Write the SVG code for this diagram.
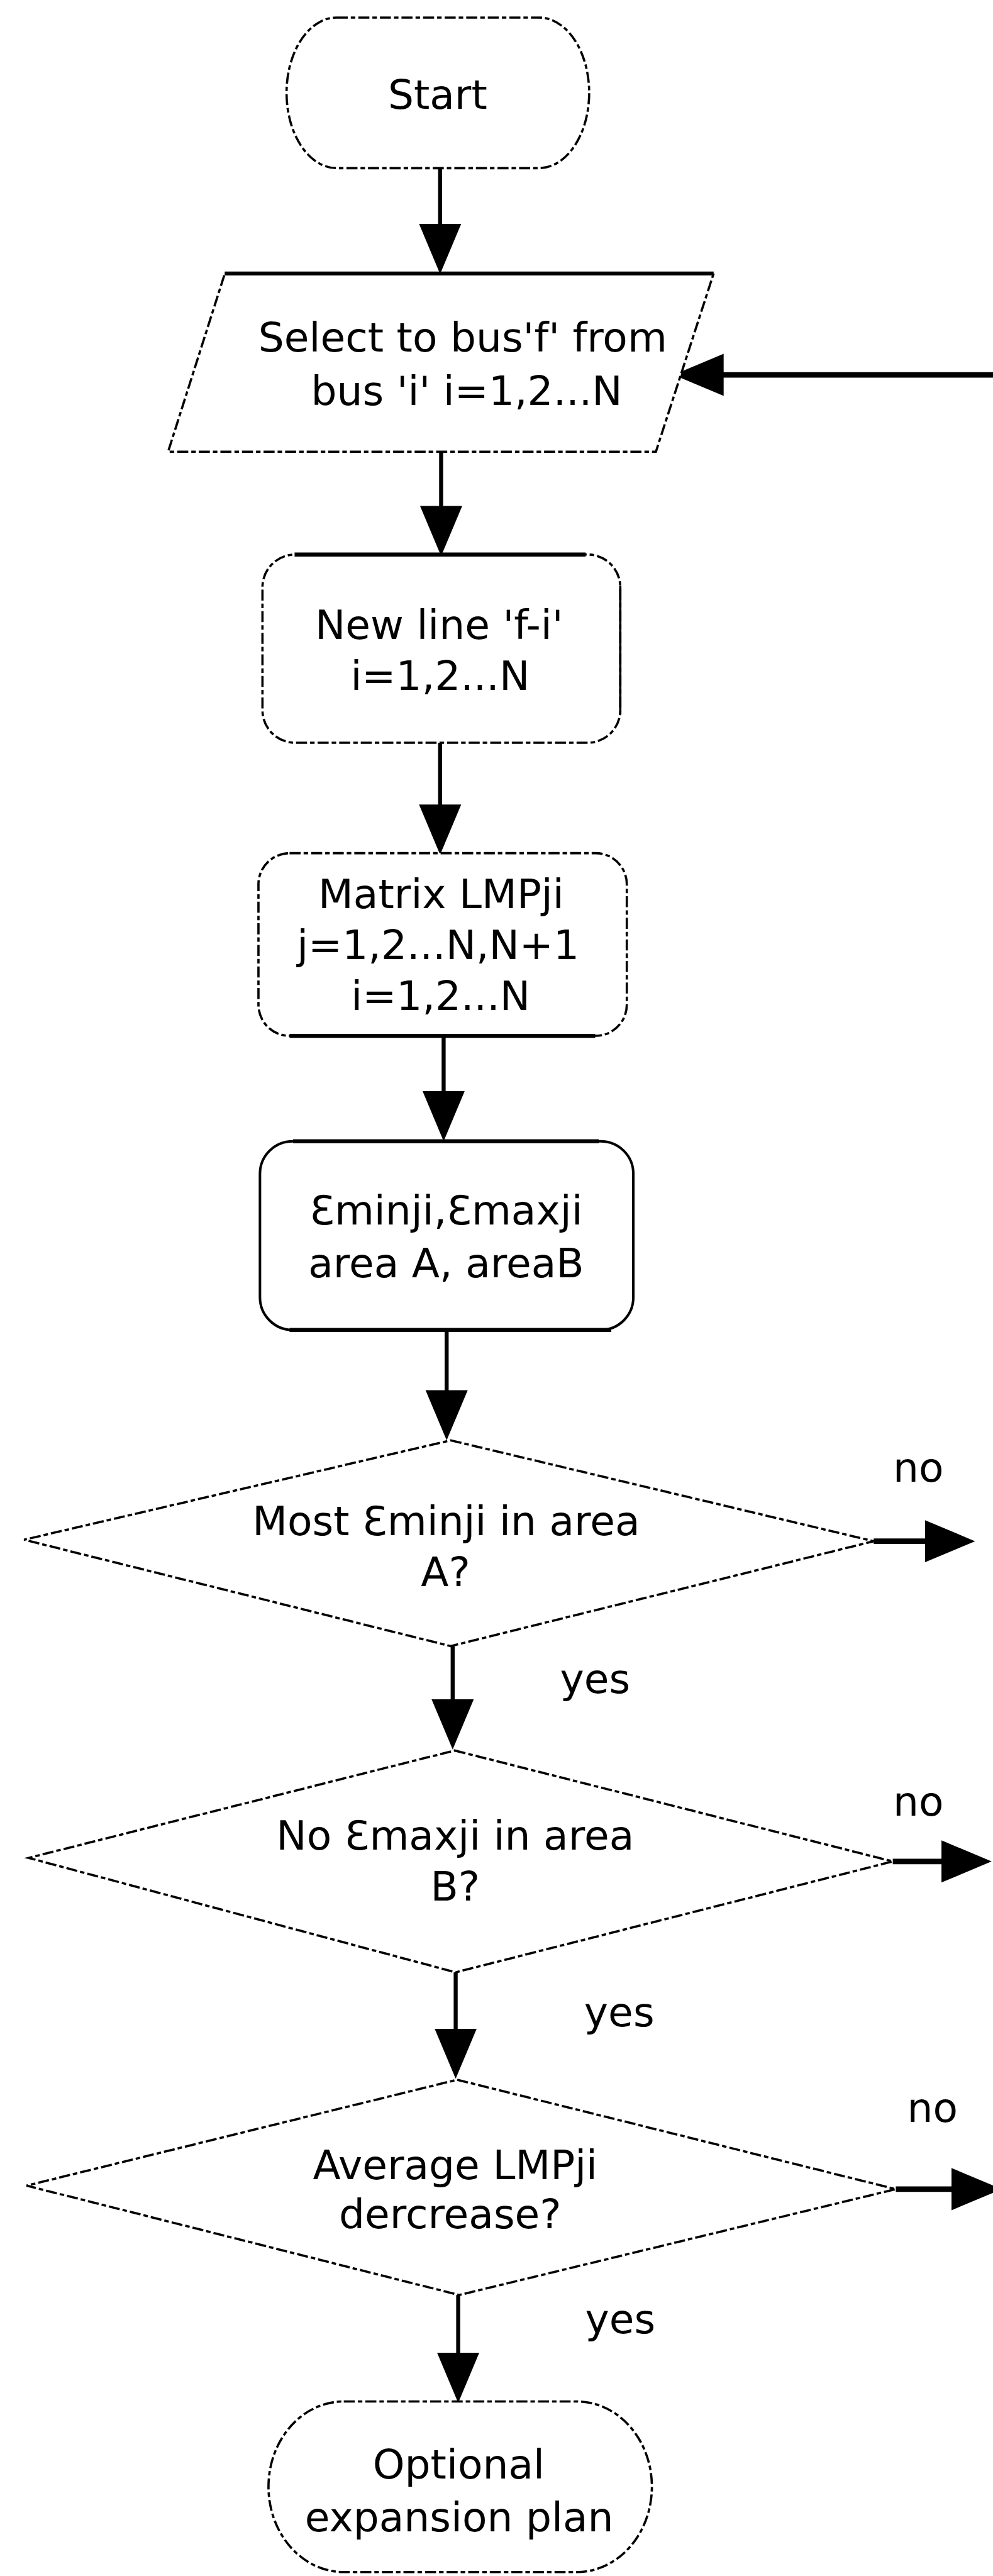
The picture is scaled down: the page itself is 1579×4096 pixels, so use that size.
<svg xmlns="http://www.w3.org/2000/svg" width="1579" height="4096" viewBox="0 0 1579 4096">
  <style>
    .shape { fill: #fff; stroke: #000; stroke-width: 4.5; stroke-dasharray: 22 6 9 6; }
    .solid { fill: none; stroke: #000; stroke-width: 4.5; }
    .edge { fill: none; stroke: #000; stroke-width: 8; }
    .conn { fill: none; stroke: #000; stroke-width: 8; marker-end: url(#head); }
    .conn-h { fill: none; stroke: #000; stroke-width: 11; marker-end: url(#head); }
    text { font-family: "DejaVu Sans", Verdana, sans-serif; font-size: 81px; fill: #000; text-anchor: middle; }
  </style>
  <defs>
    <marker id="head" markerUnits="userSpaceOnUse" viewBox="0 0 102 86" markerWidth="102" markerHeight="86" refX="2" refY="43" orient="auto">
      <path d="M0,1 L100,43 L0,85 z" fill="#000"/>
    </marker>
  </defs>
  <rect width="1579" height="4096" fill="#fff"/>

  <g transform="scale(0.798)">
    <!-- connectors -->
    <g id="connectors">
      <path class="conn" d="M877,335 V448"/>
      <path class="conn" d="M879,900 V1010"/>
      <path class="conn" d="M877,1480 V1605"/>
      <path class="conn" d="M884,2064 V2176"/>
      <path class="conn" d="M890,2650 V2772"/>
      <path class="conn" d="M902,3280 V3388"/>
      <path class="conn" d="M908,3930 V4044"/>
      <path class="conn" d="M913,4573 V4690"/>
      <path class="conn-h" d="M1990,747 H1440"/>
      <path class="conn-h" d="M1741,3071 H1845"/>
      <path class="conn-h" d="M1779,3709 H1878"/>
      <path class="conn-h" d="M1785,4362 H1898"/>
    </g>

    <!-- branch labels -->
    <g id="labels">
      <text x="1830" y="2952">no</text>
      <text x="1830" y="3618">no</text>
      <text x="1858" y="4228">no</text>
      <text x="1186" y="3374">yes</text>
      <text x="1234" y="4037">yes</text>
      <text x="1236" y="4649">yes</text>
    </g>

    <g id="start">
      <rect class="shape" x="571" y="35" width="603" height="300" rx="100" ry="150"/>
      <text x="872" y="217">Start</text>
    </g>

    <g id="select-bus">
      <polygon class="shape" points="448,545 1422,545 1307,900 335,900"/>
      <line class="edge" x1="448" y1="545" x2="1422" y2="545"/>
      <text x="922" y="701">Select to bus'f' from</text>
      <text x="930" y="807">bus 'i' i=1,2...N</text>
    </g>

    <g id="new-line">
      <rect class="shape" x="523" y="1105" width="713" height="375" rx="65" ry="65"/>
      <line class="edge" x1="587" y1="1105" x2="1167" y2="1105"/>
      <line class="solid" x1="1236" y1="1168" x2="1236" y2="1423"/>
      <text x="875" y="1273">New line 'f-i'</text>
      <text x="877" y="1375">i=1,2...N</text>
    </g>

    <g id="matrix">
      <rect class="shape" x="515" y="1700" width="734" height="364" rx="62" ry="62"/>
      <line class="edge" x1="577" y1="2064" x2="1186" y2="2064"/>
      <text x="879" y="1809">Matrix LMPji</text>
      <text x="873" y="1911">j=1,2...N,N+1</text>
      <text x="878" y="2013">i=1,2...N</text>
    </g>

    <g id="eps-areas">
      <rect x="518" y="2274" width="744" height="376" rx="65" ry="65" fill="#fff" stroke="#000" stroke-width="5"/>
      <line class="edge" x1="584" y1="2274" x2="1193" y2="2274"/>
      <line class="edge" x1="577" y1="2650" x2="1218" y2="2650"/>
      <text x="889" y="2440">Ɛminji,Ɛmaxji</text>
      <text x="889" y="2545">area A, areaB</text>
    </g>

    <g id="check-min">
      <polygon class="shape" points="898,2870 1741,3071 898,3280 48,3068"/>
      <text x="889" y="3059">Most Ɛminji in area</text>
      <text x="888" y="3160">A?</text>
    </g>

    <g id="check-max">
      <polygon class="shape" points="906,3488 1779,3709 908,3930 57,3702"/>
      <text x="907" y="3686">No Ɛmaxji in area</text>
      <text x="907" y="3787">B?</text>
    </g>

    <g id="check-average">
      <polygon class="shape" points="911,4144 1785,4362 915,4573 53,4355"/>
      <text x="907" y="4342">Average LMPji</text>
      <text x="897" y="4440">dercrease?</text>
    </g>

    <g id="end">
      <rect class="shape" x="535" y="4785" width="764" height="340" rx="150" ry="170"/>
      <text x="914" y="4939">Optional</text>
      <text x="915" y="5044">expansion plan</text>
    </g>
  </g>
</svg>
